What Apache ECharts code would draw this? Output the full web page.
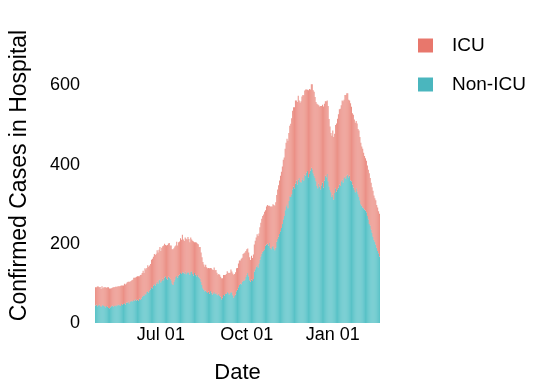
<!DOCTYPE html>
<html><head><meta charset="utf-8">
<script src="https://cdn.jsdelivr.net/npm/echarts@6/dist/echarts.min.js"></script>
<style>html,body{margin:0;padding:0;background:#fff}#c{width:542px;height:389px}</style>
</head><body><div id="c"></div>
<script>
const startDate = '2020-04-22';
const tickDates = ['2020-07-01', '2020-10-01', '2021-01-01'];
const tickLabels = ['Jul 01', 'Oct 01', 'Jan 01'];
const yTicks = [0, 200, 400, 600];

const nonIcu = [
44,46,42,45,47,43,41,44,46,43,
42,40,43,41,38,37,40,42,44,41,
43,45,42,46,44,47,45,43,48,46,
48,50,47,52,51,54,49,53,56,55,
55,58,56,60,57,59,56,61,58,62,
66,70,68,74,72,78,80,77,83,85,
90,88,95,98,94,100,104,99,108,110,
102,106,112,108,115,118,113,110,117,114,
112,108,100,96,104,110,116,119,114,120,
122,126,124,128,127,125,130,123,126,129,
127,122,129,131,124,120,126,122,118,121,
117,114,112,104,96,88,84,80,82,78,
76,79,74,81,77,72,75,78,73,76,
72,70,74,68,66,60,64,71,69,73,
74,78,76,72,75,79,77,70,64,68,
72,80,84,90,96,100,98,104,108,106,
110,116,122,126,118,108,104,110,106,111,
130,136,142,146,140,150,160,168,175,180,
182,186,195,198,200,196,202,190,186,192,
195,188,184,190,205,212,218,225,232,240,
250,262,270,285,295,300,290,308,320,318,
325,338,345,340,352,360,350,362,366,356,
355,362,368,360,375,372,380,384,368,376,
385,392,388,378,372,366,358,346,340,352,
345,338,348,355,342,360,372,368,376,358,
345,336,330,318,324,312,328,340,332,338,
342,350,346,358,362,355,366,370,364,372,
375,368,372,360,358,350,342,336,330,340,
332,325,318,310,300,296,292,290,286,284,
280,270,262,250,246,236,228,218,210,205,
198,190,182,176,168
];

const icu = [
46,44,50,47,43,48,45,49,42,47,
48,50,46,49,52,50,47,46,45,49,
47,46,50,45,49,46,48,51,47,49,
47,49,50,48,52,50,55,51,50,53,
54,56,58,55,60,59,62,57,63,60,
60,62,58,64,63,61,66,65,62,64,
70,74,72,76,78,75,80,79,77,82,
80,84,82,88,85,79,83,87,84,88,
84,88,86,90,85,83,80,86,82,84,
84,88,86,95,84,82,86,90,85,88,
85,82,87,80,84,86,78,82,85,80,
82,78,80,74,70,66,64,62,65,63,
62,60,64,58,61,63,59,62,60,58,
55,52,50,54,51,53,49,50,52,48,
50,53,51,54,52,56,53,55,58,56,
56,58,55,60,62,58,64,61,66,70,
68,66,64,62,60,58,55,60,58,62,
68,72,74,78,80,76,82,85,88,90,
92,95,90,96,98,100,94,104,108,102,
105,110,112,115,118,125,130,135,140,142,
145,150,148,155,160,165,170,172,178,185,
192,198,200,205,210,202,208,212,196,200,
205,210,208,215,212,218,210,205,220,215,
205,211,215,210,212,205,200,208,212,198,
202,210,200,196,205,194,188,192,186,190,
170,160,150,155,162,158,150,160,172,178,
185,190,195,192,200,205,198,206,212,208,
205,196,190,195,188,180,184,178,176,170,
172,165,168,160,155,150,148,140,136,132,
130,128,125,128,120,118,115,116,112,110,
112,108,110,106,108
];

// category dates: one per day starting at startDate
const dates = [];
(function(){
  const d0 = new Date(startDate + 'T00:00:00Z');
  for (let i = 0; i < nonIcu.length; i++) {
    const d = new Date(d0.getTime() + i * 86400000);
    dates.push(d.toISOString().slice(0, 10));
  }
})();

const font = 'Liberation Sans, Arial, Helvetica, sans-serif';
const chart = echarts.init(document.getElementById('c'), null, {renderer: 'canvas'});
chart.setOption({
  animation: false,
  backgroundColor: '#ffffff',
  grid: {left: 95, right: 162, top: 28, bottom: 63, containLabel: false},
  legend: {
    orient: 'vertical', left: 413, top: 31,
    itemWidth: 15, itemHeight: 14, itemGap: 20,
    icon: 'rect',
    textStyle: {fontFamily: font, fontSize: 19, color: '#000', padding: [0, 0, 0, 14]},
    data: [
      {name: 'ICU', itemStyle: {color: '#E8776C'}},
      {name: 'Non-ICU', itemStyle: {color: '#4AB6BE'}}
    ]
  },
  xAxis: {
    type: 'category', data: dates, boundaryGap: true,
    name: 'Date', nameLocation: 'middle', nameGap: 39,
    nameTextStyle: {fontFamily: font, fontSize: 22, color: '#000'},
    axisLine: {show: false}, axisTick: {show: false}, splitLine: {show: false},
    axisLabel: {
      fontFamily: font, fontSize: 18, color: '#000', margin: 3,
      interval: function (idx, val) { return tickDates.indexOf(val) >= 0; },
      formatter: function (val) { const k = tickDates.indexOf(val); return k >= 0 ? tickLabels[k] : ''; }
    }
  },
  yAxis: {
    type: 'value', min: 0, max: 745, interval: 200,
    name: 'Confirmed Cases in Hospital', nameLocation: 'middle', nameGap: 64, nameRotate: 90,
    nameTextStyle: {fontFamily: font, fontSize: 23, color: '#000'},
    axisLine: {show: false}, axisTick: {show: false}, splitLine: {show: false},
    axisLabel: {
      fontFamily: font, fontSize: 18, color: '#000', margin: 15,
      formatter: function (v) { return yTicks.indexOf(v) >= 0 ? String(v) : ''; }
    }
  },
  series: [
    {name: 'Non-ICU', type: 'bar', stack: 'a', data: nonIcu, barCategoryGap: '0%',
     itemStyle: {color: '#58C2C7'}},
    {name: 'ICU', type: 'bar', stack: 'a', data: icu, barCategoryGap: '0%',
     itemStyle: {color: '#EB9086'}}
  ]
});
</script></body></html>
